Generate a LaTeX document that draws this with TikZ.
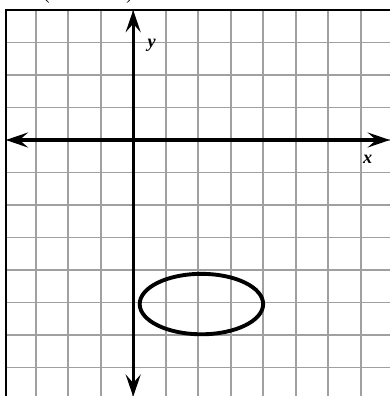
\documentclass[tikz,border=0pt]{standalone}
\usepackage{fontspec}
\setmainfont{Liberation Serif}
\usetikzlibrary{arrows.meta}
\definecolor{gridgray}{HTML}{A0A0A0}

\begin{document}
\begin{tikzpicture}[
  x=1cm, y=1cm,
  font=\fontsize{16}{16}\selectfont,
  >={Stealth[length=6.8mm,width=4.6mm,inset=2.6mm]},
  axis/.style={line width=2.9pt, <->},
  gridline/.style={gridgray, line width=1.6pt},
  frame/.style={black, line width=2pt, line join=miter},
  curve/.style={black, line width=3.4pt},
  lbl/.style={font=\fontsize{16}{16}\selectfont\bfseries\itshape, inner sep=0pt},
]
\useasboundingbox (-4.1,-7.88) rectangle (7.9,4.31);
\clip (-4.1,-7.88) rectangle (7.9,4.31);

% ---------- grid and frame ----------
\foreach \i in {-3,...,8} {
  \draw[gridline] (\i,4) -- (\i,-8.2);
}
\foreach \j in {-8,...,3} {
  \draw[gridline] (-3.92,\j) -- (8.2,\j);
}
\draw[frame] (-3.92,-8.2) -- (-3.92,4) -- (8.2,4);

% ---------- axes ----------
\coordinate (xleft) at (-3.92,0);
\coordinate (xright) at (7.9,0);
\coordinate (ytop) at (0,4);
\coordinate (ybottom) at (0,-7.9);
\draw[axis] (xleft) -- (xright);
\draw[axis] (ybottom) -- (ytop);
\node[lbl] (ylab) at (0.57,2.93) {y};
\node[lbl] (xlab) at (7.22,-0.585) {x};

% ---------- ellipse ----------
\draw[curve] (2.1,-5.05) ellipse (1.9 and 0.93);

% ---------- cut-off title ----------
\node[anchor=south, inner sep=0pt] (pair) at (-1.39,4.19) {(\hspace{67pt})};
\end{tikzpicture}
\end{document}
